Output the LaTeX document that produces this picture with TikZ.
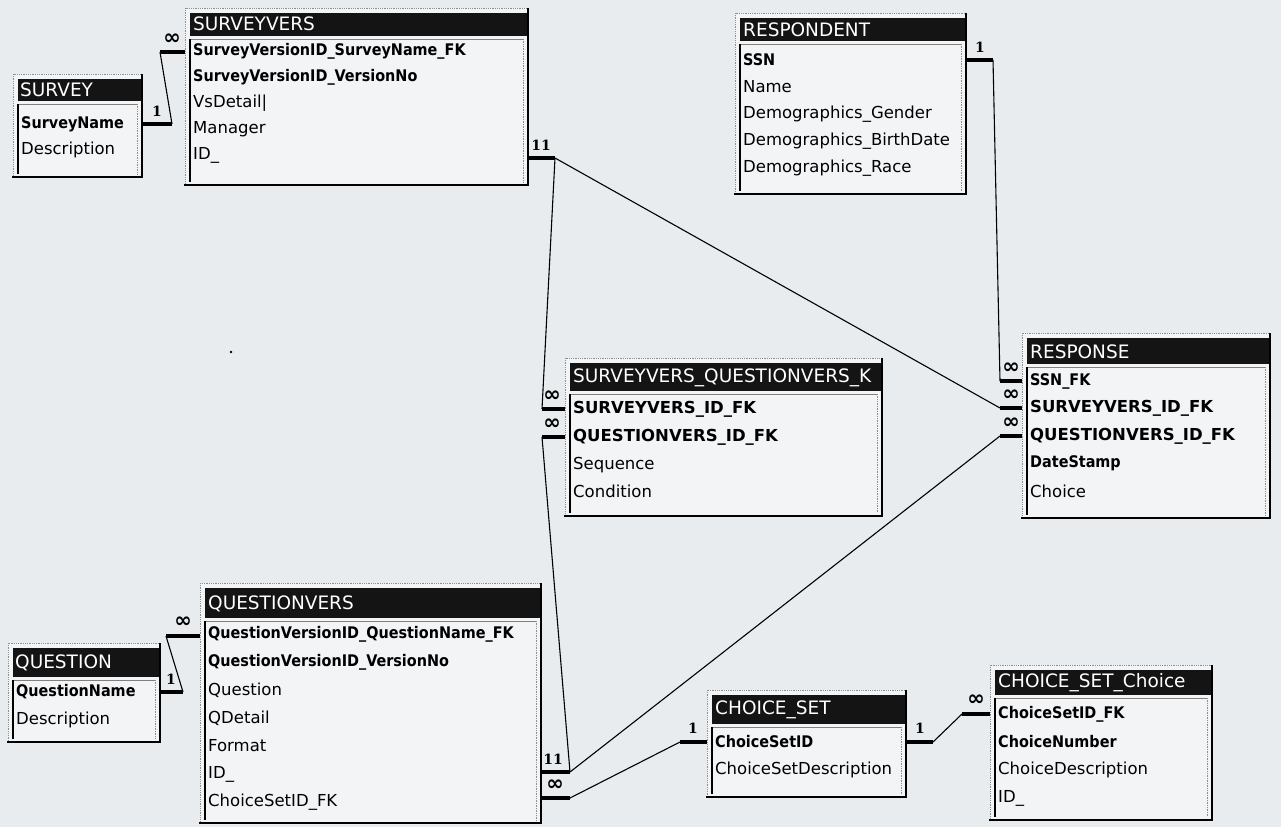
\documentclass[tikz,border=0pt]{standalone}
\usepackage{fontspec}
\setmainfont{DejaVu Sans}
\newfontfamily\condfont{DejaVu Sans Condensed}
\newfontfamily\serifb{DejaVu Serif}
\definecolor{bgc}{HTML}{E8ECEE}
\definecolor{tabc}{HTML}{F2F4F5}
\definecolor{dotc}{HTML}{8A8F92}
\tikzset{
  fld/.style={anchor=west, inner sep=0pt, font=\fontsize{16.5}{18}\selectfont},
  key/.style={anchor=west, inner sep=0pt, font=\condfont\bfseries\fontsize{16}{18}\selectfont},
  ukey/.style={anchor=west, inner sep=0pt, font=\bfseries\fontsize{16.5}{18}\selectfont},
  ttl/.style={anchor=west, inner sep=0pt, text=white, font=\fontsize{18.5}{20}\selectfont},
  relstub/.style={line width=4pt},
  rel/.style={line width=1.1pt},
  one/.style={inner sep=0pt, font=\serifb\bfseries\fontsize{14}{14}\selectfont},
  many/.style={inner sep=0pt, font=\bfseries\fontsize{21}{21}\selectfont},
}
\newcommand{\erdbox}[5]{%
  \fill[tabc] (#1,#2) rectangle (#3,#4);
  \draw[dotc, densely dotted, line width=0.8pt] (#1,#2) rectangle (#3,#4);
  \fill[black!92] (#1+5,#2+5) rectangle (#3,#5);
  \draw[gray, line width=0.7pt] (#1+5,#5+3) -- (#3-4,#5+3);
  \draw[dotc, densely dotted, line width=0.7pt] (#3-5,#5+3) -- (#3-5,#4-3);
  \draw[line width=1.2pt] (#1+5,#5+3) -- (#1+5,#4-3);
  \draw[line width=2.6pt] (#3,#2) -- (#3,#4) -- (#1-1,#4);
}
\begin{document}
\begin{tikzpicture}[x=1pt,y=-1pt]
\fill[bgc] (0,0) rectangle (1281,827);
\useasboundingbox (0,0) rectangle (1281,827);

% SURVEY
\erdbox{13}{74}{142}{177}{101}
\node[ttl] (survey) at (20,90) {SURVEY};
\node[key] (survey-name) at (21,124) {SurveyName};
\node[fld] (survey-desc) at (21,150) {Description};

% SURVEYVERS
\erdbox{185}{8}{528}{185}{36}
\node[ttl] (sv) at (193,24) {SURVEYVERS};
\node[key] (sv-f1) at (193,51) {SurveyVersionID\_SurveyName\_FK};
\node[key] (sv-f2) at (193,77) {SurveyVersionID\_VersionNo};
\node[fld] (sv-f3) at (193,103) {VsDetail|};
\node[fld] (sv-f4) at (193,129) {Manager};
\node[fld] (sv-f5) at (193,155) {ID\_};

% RESPONDENT
\erdbox{735}{13}{966}{194}{41}
\node[ttl] (rd) at (743,30) {RESPONDENT};
\node[key] (rd-f1) at (743,60) {SSN};
\node[fld] (rd-f2) at (743,87) {Name};
\node[fld] (rd-f3) at (743,114) {Demographics\_Gender};
\node[fld] (rd-f4) at (743,141) {Demographics\_BirthDate};
\node[fld] (rd-f5) at (743,168) {Demographics\_Race};

% SURVEYVERS_QUESTIONVERS_K
\erdbox{565}{358}{882}{516}{391}
\node[ttl] (sq) at (573,378) {SURVEYVERS\_QUESTIONVERS\_K};
\node[ukey] (sq-f1) at (573,409) {SURVEYVERS\_ID\_FK};
\node[ukey] (sq-f2) at (573,437) {QUESTIONVERS\_ID\_FK};
\node[fld] (sq-f3) at (573,465) {Sequence};
\node[fld] (sq-f4) at (573,491) {Condition};

% RESPONSE
\erdbox{1022}{333}{1270}{518}{364}
\node[ttl] (rs) at (1030,352) {RESPONSE};
\node[key] (rs-f1) at (1030,381) {SSN\_FK};
\node[ukey] (rs-f2) at (1030,408) {SURVEYVERS\_ID\_FK};
\node[ukey] (rs-f3) at (1030,436) {QUESTIONVERS\_ID\_FK};
\node[key] (rs-f4) at (1030,463) {DateStamp};
\node[fld] (rs-f5) at (1030,491) {Choice};

% QUESTION
\erdbox{8}{643}{160}{742}{677}
\node[ttl] (q) at (15,663) {QUESTION};
\node[key] (q-f1) at (16,692) {QuestionName};
\node[fld] (q-f2) at (16,720) {Description};

% QUESTIONVERS
\erdbox{200}{583}{541}{823}{618}
\node[ttl] (qv) at (208,604) {QUESTIONVERS};
\node[key] (qv-f1) at (208,634) {QuestionVersionID\_QuestionName\_FK};
\node[key] (qv-f2) at (208,662) {QuestionVersionID\_VersionNo};
\node[fld] (qv-f3) at (208,690) {Question};
\node[fld] (qv-f4) at (208,718) {QDetail};
\node[fld] (qv-f5) at (208,746) {Format};
\node[fld] (qv-f6) at (208,774) {ID\_};
\node[fld] (qv-f7) at (208,802) {ChoiceSetID\_FK};

% CHOICE_SET
\erdbox{707}{690}{906}{797}{724}
\node[ttl] (cs) at (715,710) {CHOICE\_SET};
\node[key] (cs-f1) at (715,742) {ChoiceSetID};
\node[fld] (cs-f2) at (715,770) {ChoiceSetDescription};

% CHOICE_SET_Choice
\erdbox{990}{665}{1212}{820}{695}
\node[ttl] (cc) at (998,683) {CHOICE\_SET\_Choice};
\node[key] (cc-f1) at (998,714) {ChoiceSetID\_FK};
\node[key] (cc-f2) at (998,742) {ChoiceNumber};
\node[fld] (cc-f3) at (998,770) {ChoiceDescription};
\node[fld] (cc-f4) at (998,798) {ID\_};

% stray dot
\fill (231,352) circle (1.4pt);

% ---- relationships ----
% SURVEY -> SURVEYVERS
\coordinate (a1) at (142,124); \coordinate (a2) at (172,124);
\coordinate (a3) at (160,52);  \coordinate (a4) at (185,52);
\draw[relstub] (a1) -- (a2); \draw[relstub] (a3) -- (a4);
\draw[rel] (a2) -- (a3);
\node[one] (a-l1) at (157,111) {1};
\node[many] (a-l2) at (172,39) {∞};

% QUESTION -> QUESTIONVERS
\coordinate (b1) at (160,692); \coordinate (b2) at (183,692);
\coordinate (b3) at (166,636); \coordinate (b4) at (200,636);
\draw[relstub] (b1) -- (b2); \draw[relstub] (b3) -- (b4);
\draw[rel] (b2) -- (b3);
\node[one] (b-l1) at (171,679) {1};
\node[many] (b-l2) at (183,622) {∞};

% SURVEYVERS.ID_ -> SQ, RESPONSE
\coordinate (c1) at (528,158); \coordinate (c2) at (555,158);
\coordinate (c3) at (542,409); \coordinate (c4) at (565,409);
\coordinate (c5) at (1000,408); \coordinate (c6) at (1022,408);
\draw[relstub] (c1) -- (c2); \draw[relstub] (c3) -- (c4); \draw[relstub] (c5) -- (c6);
\draw[rel] (c2) -- (c3);
\draw[rel] (c2) -- (c5);
\node[one] (c-l1) at (541,145) {11};
\node[many] (c-l2) at (552,396) {∞};
\node[many] (c-l3) at (1011,395) {∞};

% RESPONDENT.SSN -> RESPONSE.SSN_FK
\coordinate (d1) at (966,60); \coordinate (d2) at (993,60);
\coordinate (d3) at (1000,381); \coordinate (d4) at (1022,381);
\draw[relstub] (d1) -- (d2); \draw[relstub] (d3) -- (d4);
\draw[rel] (d2) -- (d3);
\node[one] (d-l1) at (980,47) {1};
\node[many] (d-l2) at (1011,368) {∞};

% QUESTIONVERS.ID_ -> SQ, RESPONSE
\coordinate (e1) at (541,772); \coordinate (e2) at (570,772);
\coordinate (e3) at (542,437); \coordinate (e4) at (565,437);
\coordinate (e5) at (1000,436); \coordinate (e6) at (1022,436);
\draw[relstub] (e1) -- (e2); \draw[relstub] (e3) -- (e4); \draw[relstub] (e5) -- (e6);
\draw[rel] (e2) -- (e3);
\draw[rel] (e2) -- (e5);
\node[one] (e-l1) at (553,759) {11};
\node[many] (e-l2) at (552,424) {∞};
\node[many] (e-l3) at (1011,423) {∞};

% QUESTIONVERS.ChoiceSetID_FK -> CHOICE_SET
\coordinate (f1) at (541,798); \coordinate (f2) at (570,798);
\coordinate (f3) at (680,742); \coordinate (f4) at (707,742);
\draw[relstub] (f1) -- (f2); \draw[relstub] (f3) -- (f4);
\draw[rel] (f2) -- (f3);
\node[many] (f-l1) at (555,785) {∞};
\node[one] (f-l2) at (693,728) {1};

% CHOICE_SET -> CHOICE_SET_Choice
\coordinate (g1) at (906,742); \coordinate (g2) at (933,742);
\coordinate (g3) at (962,714); \coordinate (g4) at (990,714);
\draw[relstub] (g1) -- (g2); \draw[relstub] (g3) -- (g4);
\draw[rel] (g2) -- (g3);
\node[one] (g-l1) at (920,728) {1};
\node[many] (g-l2) at (976,700) {∞};
\end{tikzpicture}
\end{document}
